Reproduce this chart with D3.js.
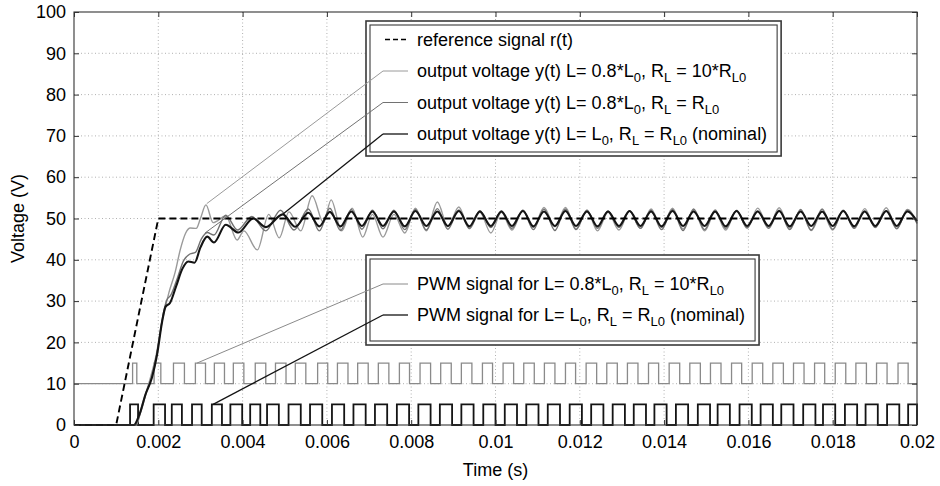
<!DOCTYPE html>
<html>
<head>
<meta charset="utf-8">
<script src="https://cdn.jsdelivr.net/npm/d3@7"></script>
<style>
body { margin: 0; background: #fff; }
svg { display: block; font-family: "Liberation Sans", Arial, sans-serif; }
</style>
</head>
<body>
<svg id="chart" width="940" height="486"></svg>
<script>
// Time values are in ms, voltages in V
const xTicks = [0, 2, 4, 6, 8, 10, 12, 14, 16, 18, 20];
const xTickLabels = ['0', '0.002', '0.004', '0.006', '0.008', '0.01', '0.012', '0.014', '0.016', '0.018', '0.02'];
const yTicks = [0, 10, 20, 30, 40, 50, 60, 70, 80, 90, 100];

// reference signal r(t)
const refT = [0, 1.0, 2.0, 20];
const refV = [0, 0, 50, 50];

// start-up part of each output voltage, [t, v]
const nominalStart = [
	[0, 0], [1.42, 0], [1.55, 2.5], [1.70, 7.5], [1.85, 11.5], [1.97, 17], [2.09, 25], [2.17, 28.6],
	[2.28, 29.6], [2.42, 33.5], [2.57, 37.8], [2.71, 39.6], [2.86, 39.3], [3.00, 43.0], [3.16, 45.6],
	[3.32, 44.2], [3.60, 48.5], [3.90, 46.6], [4.25, 50.0], [4.55, 47.9], [4.95, 51.0], [5.25, 48.0],
	[5.56, 51.4], [5.82, 48.1], [6.07, 51.6], [6.32, 48.1], [6.58, 51.7], [6.83, 48.2], [7.08, 51.7],
];
const mediumStart = [
	[0, 0], [1.45, 0], [1.58, 3], [1.72, 8], [1.87, 12.5], [1.98, 18], [2.10, 26], [2.20, 30.2],
	[2.30, 31.5], [2.45, 35.5], [2.60, 39.8], [2.75, 41.4], [2.88, 41.8], [3.02, 45.0], [3.16, 46.6],
	[3.32, 46.0], [3.60, 50.8], [3.88, 47.2], [4.22, 50.5], [4.55, 47.0], [4.90, 52.0], [5.22, 47.2],
	[5.56, 52.3], [5.82, 47.0], [6.07, 52.5], [6.32, 47.1], [6.58, 52.2], [6.83, 47.4], [7.08, 52.0],
];
const lightStart = [
	[0, 0], [1.48, 0], [1.62, 5], [1.80, 11], [1.95, 17], [2.10, 25.5], [2.25, 32], [2.40, 37],
	[2.52, 42.4], [2.65, 46.5], [2.76, 47.7], [2.90, 47.6], [3.00, 50.0], [3.13, 53.3], [3.30, 49.0],
	[3.60, 50.6], [3.87, 44.8], [4.03, 47.0], [4.35, 42.4], [4.62, 51.0], [4.87, 45.3], [5.10, 51.6],
	[5.38, 47.0], [5.65, 55.5], [5.92, 49.0], [6.10, 54.5], [6.35, 47.0], [6.60, 52.5], [6.85, 45.5],
	[7.08, 51.0],
];

// steady ripple: troughs and peaks
const steadyT = [
	7.33, 7.59, 7.85, 8.10, 8.36, 8.62, 8.87, 9.13, 9.38, 9.63, 9.89, 10.14, 10.39, 10.65, 10.90, 11.15,
	11.41, 11.66, 11.91, 12.17, 12.42, 12.67, 12.93, 13.18, 13.44, 13.69, 13.94, 14.20, 14.45, 14.70,
	14.96, 15.21, 15.46, 15.72, 15.97, 16.22, 16.48, 16.73, 16.98, 17.24, 17.49, 17.75, 18.00, 18.25,
	18.51, 18.76, 19.01, 19.27, 19.52, 19.77, 20.00,
];
const nominalSteady = [
	48.2, 51.7, 48.1, 51.8, 48.2, 51.7, 48.2, 51.8, 48.1, 51.7, 48.2, 51.7, 48.2, 51.8, 48.1, 51.7,
	48.2, 51.8, 48.2, 51.7, 48.1, 51.7, 48.2, 51.8, 48.2, 51.7, 48.1, 51.8, 48.2, 51.7, 48.2, 51.7,
	48.1, 51.8, 48.2, 51.7, 48.2, 51.8, 48.1, 51.7, 48.2, 51.7, 48.2, 51.8, 48.1, 51.7, 48.2, 51.8,
	48.2, 51.7, 49.4,
];
const mediumSteady = [
	47.5, 52.0, 47.3, 52.2, 47.2, 52.4, 47.4, 52.1, 47.6, 51.9, 47.8, 51.8, 47.6, 52.0, 47.3, 52.3,
	47.1, 52.3, 47.3, 52.0, 47.6, 51.8, 47.8, 51.8, 47.6, 52.0, 47.3, 52.2, 47.1, 52.3, 47.3, 52.1,
	47.6, 51.9, 47.8, 51.8, 47.6, 52.0, 47.3, 52.2, 47.2, 52.3, 47.4, 52.0, 47.6, 51.8, 47.8, 51.8,
	47.5, 52.0, 48.8,
];
const lightSteady = [
	45.5, 51.0, 46.5, 52.5, 47.0, 54.0, 48.0, 52.8, 47.5, 51.5, 46.5, 51.5, 47.2, 52.0, 47.8, 52.7,
	48.0, 52.7, 47.5, 52.0, 47.0, 51.5, 47.2, 51.8, 47.6, 52.3, 47.8, 52.5, 47.5, 52.0, 47.0, 51.6,
	47.2, 52.0, 47.6, 52.5, 47.9, 52.6, 47.6, 52.1, 47.1, 51.6, 47.2, 51.9, 47.6, 52.4, 47.9, 52.6,
	47.6, 52.2, 49.0,
];

// PWM pulses [rise, fall]
const pwmNominal = [
	[1.33, 1.52], [1.89, 2.16], [2.32, 2.56], [2.80, 3.03], [3.27, 3.51], [3.71, 3.99], [4.18, 4.42],
	[4.58, 4.86], [5.09, 5.38], [5.60, 5.89], [6.12, 6.41], [6.63, 6.92], [7.14, 7.43], [7.66, 7.95],
	[8.17, 8.46], [8.68, 8.97], [9.19, 9.48], [9.71, 10.00], [10.22, 10.51], [10.73, 11.02],
	[11.24, 11.53], [11.76, 12.05], [12.27, 12.56], [12.78, 13.07], [13.28, 13.57], [13.77, 14.06],
	[14.28, 14.57], [14.80, 15.09], [15.27, 15.56], [15.79, 16.08], [16.29, 16.58], [16.78, 17.07],
	[17.30, 17.59], [17.77, 18.06], [18.29, 18.58], [18.78, 19.07], [19.29, 19.58], [19.79, 20.00],
];
const pwmLight = [
	[1.39, 1.49], [1.90, 2.06], [2.36, 2.62], [2.88, 3.12], [3.33, 3.57], [3.78, 4.03], [4.30, 4.55],
	[4.78, 5.03], [5.25, 5.50], [5.78, 6.02], [6.25, 6.50], [6.73, 6.98], [7.22, 7.47], [7.72, 7.96],
	[8.21, 8.46], [8.70, 8.95], [9.19, 9.44], [9.69, 9.93], [10.18, 10.43], [10.67, 10.92],
	[11.16, 11.41], [11.66, 11.90], [12.15, 12.40], [12.64, 12.89], [13.13, 13.38], [13.63, 13.87],
	[14.12, 14.37], [14.61, 14.86], [15.10, 15.35], [15.60, 15.84], [16.09, 16.34], [16.58, 16.83],
	[17.07, 17.32], [17.57, 17.81], [18.06, 18.31], [18.55, 18.80], [19.04, 19.29], [19.55, 19.79],
];
const pwmNominalLevels = [0, 5];
const pwmLightLevels = [10, 15];

// where each legend leader line ends, [t, v]
const anchorLight = [3.15, 53.6];
const anchorMedium = [3.11, 46.5];
const anchorNominal = [4.96, 51.1];
const anchorPwmLight = [2.92, 15];
const anchorPwmNominal = [3.30, 5];

const COL_LIGHT = '#9a9a9a';
const COL_MED = '#727272';
const COL_DARK = '#141414';

const svg = d3.select('#chart');
const W = 940;
const H = 486;
const m = { left: 74, right: 917, top: 12, bottom: 425 };

const x = d3.scaleLinear().domain([0, 20]).range([m.left, m.right]);
const y = d3.scaleLinear().domain([0, 100]).range([m.bottom, m.top]);

svg.append('rect').attr('width', W).attr('height', H).attr('fill', '#fff');

// Dotted grid
const grid = svg.append('g').attr('stroke', '#a8a8a8').attr('stroke-width', 0.9)
	.attr('stroke-dasharray', '1,2.5');
grid.selectAll('line.v').data(xTicks.slice(1, -1)).enter().append('line')
	.attr('x1', d => x(d)).attr('x2', d => x(d)).attr('y1', m.top).attr('y2', m.bottom);
grid.selectAll('line.h').data(yTicks.slice(1, -1)).enter().append('line')
	.attr('x1', m.left).attr('x2', m.right).attr('y1', d => y(d)).attr('y2', d => y(d));

svg.append('defs').append('clipPath').attr('id', 'plotClip')
	.append('rect').attr('x', m.left).attr('y', m.top - 2)
	.attr('width', m.right - m.left + 1).attr('height', m.bottom - m.top + 4);

const plot = svg.append('g').attr('clip-path', 'url(#plotClip)');

// PWM step paths
function pwmPoints(pulses, levels) {
	const pts = [[0, levels[0]]];
	pulses.forEach(([r, f]) => {
		pts.push([r, levels[1]]);
		pts.push([f, levels[0]]);
	});
	pts.push([20, levels[0]]);
	return pts;
}
const stepLine = d3.line().x(d => x(d[0])).y(d => y(d[1])).curve(d3.curveStepAfter);

plot.append('path').datum(pwmPoints(pwmLight, pwmLightLevels))
	.attr('d', stepLine).attr('fill', 'none').attr('stroke', '#8a8a8a').attr('stroke-width', 1.3);
plot.append('path').datum(pwmPoints(pwmNominal, pwmNominalLevels))
	.attr('d', stepLine).attr('fill', 'none').attr('stroke', COL_DARK).attr('stroke-width', 1.8);

// Output voltages
const smooth = d3.line().x(d => x(d[0])).y(d => y(d[1])).curve(d3.curveMonotoneX);
const withSteady = (start, vals) => start.concat(steadyT.map((t, i) => [t, vals[i]]).filter(d => d[1] !== undefined));

plot.append('path').datum(withSteady(lightStart, lightSteady))
	.attr('d', smooth).attr('fill', 'none').attr('stroke', COL_LIGHT).attr('stroke-width', 1.4);
plot.append('path').datum(withSteady(mediumStart, mediumSteady))
	.attr('d', smooth).attr('fill', 'none').attr('stroke', COL_MED).attr('stroke-width', 1.4);
plot.append('path').datum(withSteady(nominalStart, nominalSteady))
	.attr('d', smooth).attr('fill', 'none').attr('stroke', COL_DARK).attr('stroke-width', 2.1);

// Reference
plot.append('path').datum(refT.map((t, i) => [t, refV[i]]))
	.attr('d', d3.line().x(d => x(d[0])).y(d => y(d[1])))
	.attr('fill', 'none').attr('stroke', '#000').attr('stroke-width', 1.9)
	.attr('stroke-dasharray', '7,4');

// Axes with inward ticks
const axisStyle = g => {
	g.select('.domain').remove();
	g.selectAll('.tick line').attr('stroke', '#333');
	g.selectAll('.tick text').attr('fill', '#000').attr('font-size', 18)
		.attr('font-family', '"Liberation Sans", Arial, sans-serif');
};
svg.append('g').attr('transform', `translate(0,${m.bottom})`)
	.call(d3.axisBottom(x).tickValues(xTicks).tickFormat((d, i) => xTickLabels[i])
		.tickSizeInner(-5).tickSizeOuter(0).tickPadding(10))
	.call(axisStyle);
svg.append('g').attr('transform', `translate(${m.left},0)`)
	.call(d3.axisLeft(y).tickValues(yTicks).tickSizeInner(-5).tickSizeOuter(0).tickPadding(8))
	.call(axisStyle);
svg.append('g').attr('transform', `translate(0,${m.top})`)
	.call(d3.axisTop(x).tickValues(xTicks).tickFormat('').tickSizeInner(-5).tickSizeOuter(0))
	.call(axisStyle);
svg.append('g').attr('transform', `translate(${m.right},0)`)
	.call(d3.axisRight(y).tickValues(yTicks).tickFormat('').tickSizeInner(-5).tickSizeOuter(0))
	.call(axisStyle);

svg.append('rect').attr('x', m.left).attr('y', m.top)
	.attr('width', m.right - m.left).attr('height', m.bottom - m.top)
	.attr('fill', 'none').attr('stroke', '#333').attr('stroke-width', 1.1);

svg.append('text').attr('x', (m.left + m.right) / 2).attr('y', 476)
	.attr('text-anchor', 'middle').attr('font-size', 18).text('Time (s)');
svg.append('text').attr('transform', `translate(24,${(m.top + m.bottom) / 2}) rotate(-90)`)
	.attr('text-anchor', 'middle').attr('font-size', 18).text('Voltage (V)');

// Legends: text parts, [string, isSubscript]
function addText(g, tx, ty, parts) {
	const t = g.append('text').attr('x', tx).attr('y', ty).attr('font-size', 18).attr('fill', '#000');
	let sub = false;
	parts.forEach(([s, isSub]) => {
		const sp = t.append('tspan').text(s);
		if (isSub && !sub) sp.attr('dy', 5).attr('font-size', 13);
		else if (isSub) sp.attr('font-size', 13);
		else if (!isSub && sub) sp.attr('dy', -5);
		sub = isSub;
	});
	return t;
}

function legend(top, height, rows) {
	const g = svg.append('g');
	const box = g.append('g');
	const leaders = g.append('g');
	const texts = g.append('g');
	const left = 366;
	const textX = 417;
	let maxW = 0;
	rows.forEach(r => {
		const t = addText(texts, textX, r.y + 6, r.parts);
		maxW = Math.max(maxW, t.node().getBBox().width);
		if (r.dash) {
			leaders.append('line').attr('x1', 385).attr('x2', 408).attr('y1', r.y).attr('y2', r.y)
				.attr('stroke', r.color).attr('stroke-width', 1.6).attr('stroke-dasharray', '5,3');
		} else {
			leaders.append('line').attr('x1', 383).attr('x2', 408).attr('y1', r.y).attr('y2', r.y)
				.attr('stroke', r.color).attr('stroke-width', r.width);
			leaders.append('line').attr('x1', 383).attr('y1', r.y)
				.attr('x2', x(r.anchor[0])).attr('y2', y(r.anchor[1]))
				.attr('stroke', r.color).attr('stroke-width', r.width);
		}
	});
	const w = textX - left + maxW + 14;
	box.append('rect').attr('x', left).attr('y', top).attr('width', w).attr('height', height)
		.attr('fill', '#fff').attr('stroke', '#3a3a3a').attr('stroke-width', 1.6);
	box.append('rect').attr('x', left + 4).attr('y', top + 4).attr('width', w - 8).attr('height', height - 8)
		.attr('fill', 'none').attr('stroke', '#3a3a3a').attr('stroke-width', 1.1);
}

legend(21, 135, [
	{ y: 39.5, color: '#000', dash: true, parts: [['reference signal r(t)', false]] },
	{ y: 71, color: COL_LIGHT, width: 1, anchor: anchorLight,
		parts: [['output voltage y(t) L= 0.8*L', false], ['0', true], [', R', false], ['L', true],
			[' = 10*R', false], ['L0', true]] },
	{ y: 102.5, color: COL_MED, width: 1, anchor: anchorMedium,
		parts: [['output voltage y(t) L= 0.8*L', false], ['0', true], [', R', false], ['L', true],
			[' = R', false], ['L0', true]] },
	{ y: 134, color: COL_DARK, width: 1.3, anchor: anchorNominal,
		parts: [['output voltage y(t) L= L', false], ['0', true], [', R', false], ['L', true],
			[' = R', false], ['L0', true], [' (nominal)', false]] },
]);

legend(255, 90, [
	{ y: 284, color: '#8a8a8a', width: 1, anchor: anchorPwmLight,
		parts: [['PWM signal for L= 0.8*L', false], ['0', true], [', R', false], ['L', true],
			[' = 10*R', false], ['L0', true]] },
	{ y: 315, color: COL_DARK, width: 1.3, anchor: anchorPwmNominal,
		parts: [['PWM signal for L= L', false], ['0', true], [', R', false], ['L', true],
			[' = R', false], ['L0', true], [' (nominal)', false]] },
]);
</script>
</body>
</html>
